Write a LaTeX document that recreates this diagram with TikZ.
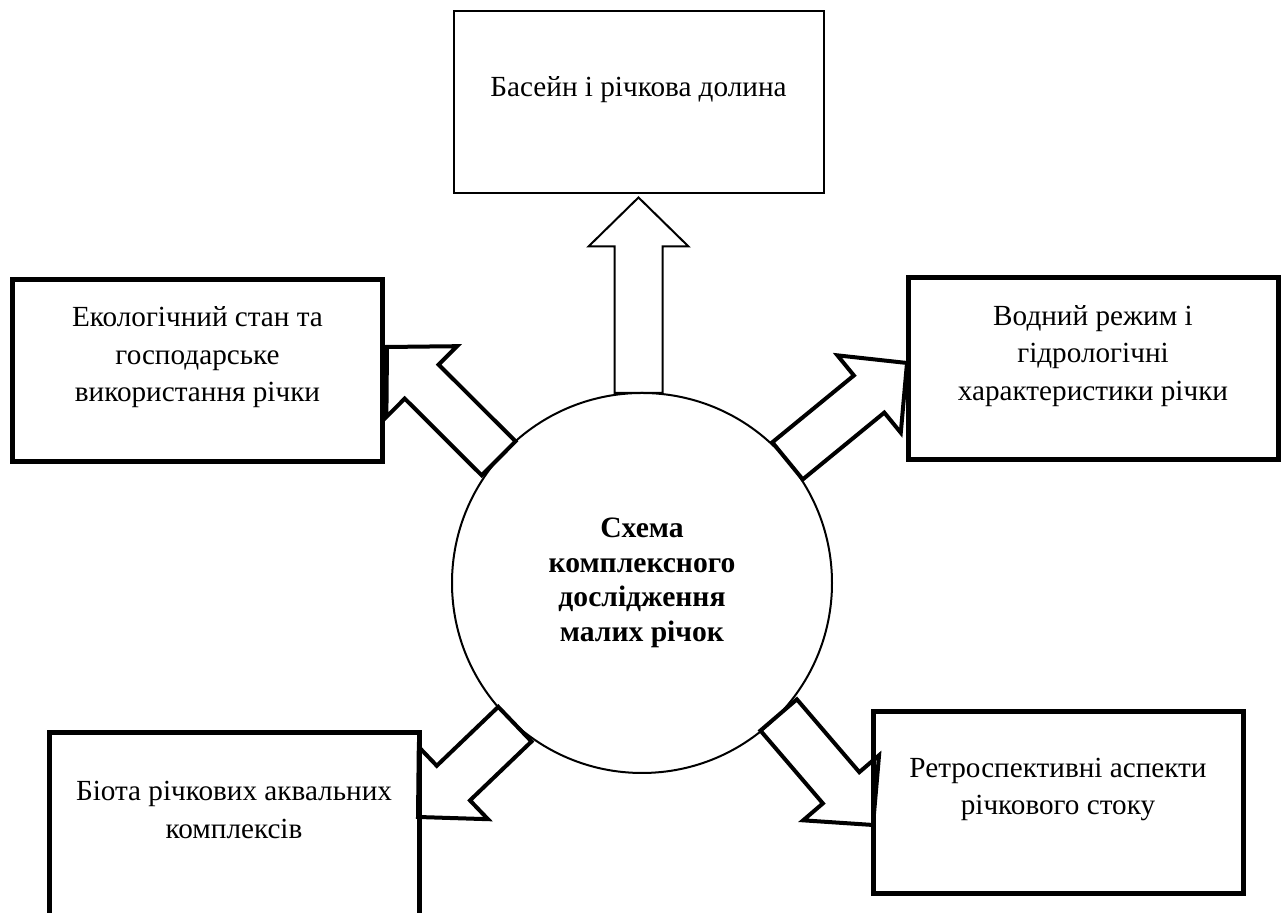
\documentclass[tikz,border=0pt]{standalone}
\usepackage{fontspec}
\setmainfont{Liberation Serif}
\usetikzlibrary{calc}

% hollow block arrow from #2 (foot) to #3 (tip)
\newcommand{\fatarrow}[3][]{%
  \draw[fatline,#1] ($(#2)!12pt!90:(#3)$)
    -- ($(#3)!24.5pt!(#2)!12pt!-90:(#2)$)
    -- ($(#3)!24.5pt!(#2)!25pt!-90:(#2)$)
    -- (#3)
    -- ($(#3)!24.5pt!(#2)!25pt!90:(#2)$)
    -- ($(#3)!24.5pt!(#2)!12pt!90:(#2)$)
    -- ($(#2)!12pt!-90:(#3)$) -- cycle;}

\begin{document}
\begin{tikzpicture}[x=0.5pt,y=0.5pt,
    box/.style={draw, line width=2.5pt, fill=white, inner sep=0pt, outer sep=0pt,
      minimum width=185pt, minimum height=91pt},
    thinbox/.style={box, line width=1pt},
    boxtext/.style={font=\fontsize{14.6}{18.75}\selectfont, align=center, yshift=6.5pt},
    fatline/.style={line width=2pt, line join=miter},
    thinline/.style={line width=1pt}]
    \path[use as bounding box, clip] (0,0) rectangle (1287,913);

    % centre
    \node[draw, circle, line width=1pt, fill=white, minimum size=190pt, inner sep=0pt,
      outer sep=0pt, align=center, font=\fontsize{14.8}{17.3}\selectfont\bfseries]
      (hub) at (642,330) {Схема\\комплексного\\дослідження\\малих річок};

    % boxes
    \node[thinbox, label={[boxtext]center:Басейн і річкова долина}] (basin) at (638.5,810.5) {};
    \node[box, label={[boxtext]center:Екологічний стан та\\господарське\\використання річки}] (ecology) at (197.5,542.5) {};
    \node[box, label={[boxtext]center:Водний режим і\\гідрологічні\\характеристики річки}] (hydro) at (1093,544) {};
    \node[box, minimum height=93pt, label={[boxtext, yshift=1.5pt]center:Біота річкових аквальних\\комплексів}] (biota) at (234,87) {};
    \node[box, label={[boxtext]center:Ретроспективні аспекти\\річкового стоку}] (retro) at (1058,110.5) {};

    % arrow ends
    \coordinate (basinFoot) at (hub.north -| basin.south);
    \coordinate (basinTip) at ([yshift=-2pt]basin.south);
    \coordinate (ecologyTip) at (387,566);
    \coordinate (hydroTip) at (907,550);
    \coordinate (biotaTip) at (418,96);
    \coordinate (retroTip) at (873,88);

    % arrows
    \fatarrow[thinline]{basinFoot}{basinTip}
    \fatarrow{hub.139}{ecologyTip}
    \fatarrow{hub.40}{hydroTip}
    \fatarrow{hub.228}{biotaTip}
    \fatarrow{hub.316}{retroTip}
\end{tikzpicture}
\end{document}
